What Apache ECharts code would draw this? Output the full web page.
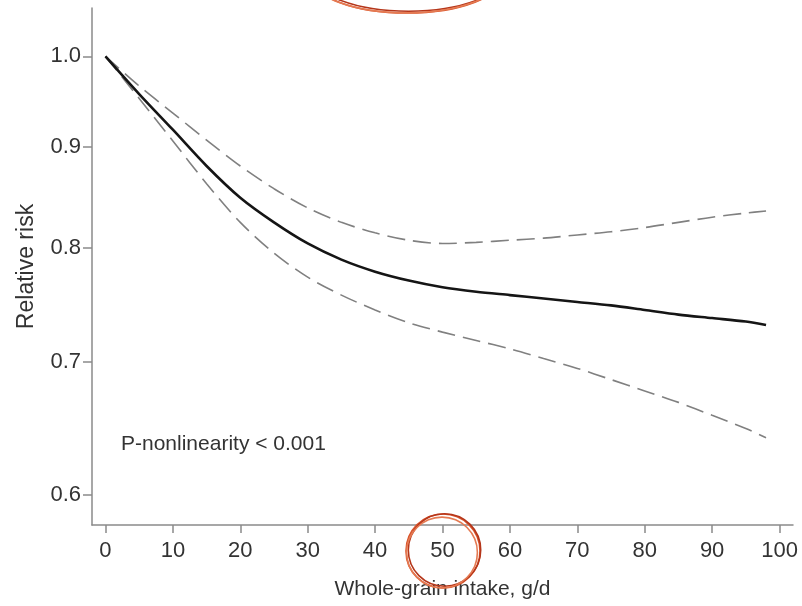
<!DOCTYPE html>
<html>
<head>
<meta charset="utf-8">
<script src="https://cdn.jsdelivr.net/npm/echarts@6/dist/echarts.min.js"></script>
<style>
  html, body { margin: 0; padding: 0; background: #fff; }
  #chart { width: 802px; height: 606px; }
</style>
</head>
<body>
<div id="chart"></div>
<script>
// whole-grain intake (g/d) and relative risk
var intake = [0, 5, 10, 15, 20, 25, 30, 35, 40, 45, 50, 55, 60, 65, 70, 75, 80, 85, 90, 95, 98];
var rr     = [1.000, 0.957, 0.918, 0.880, 0.848, 0.824, 0.804, 0.789, 0.778, 0.770, 0.764, 0.760, 0.757, 0.754, 0.751, 0.748, 0.744, 0.740, 0.737, 0.734, 0.731];
var lower  = [1.000, 0.952, 0.906, 0.862, 0.824, 0.795, 0.773, 0.757, 0.744, 0.733, 0.725, 0.718, 0.711, 0.703, 0.695, 0.686, 0.677, 0.668, 0.658, 0.648, 0.641];
var upper  = [1.000, 0.966, 0.936, 0.907, 0.880, 0.857, 0.838, 0.824, 0.814, 0.807, 0.804, 0.805, 0.807, 0.809, 0.812, 0.815, 0.819, 0.824, 0.829, 0.833, 0.835];

var xTicks = [0, 10, 20, 30, 40, 50, 60, 70, 80, 90, 100];
var yTicks = [0.6, 0.7, 0.8, 0.9, 1.0];

var font = "'Liberation Sans', Arial, sans-serif";
var axisGray = '#8a8a8a';

function pairs(ys) {
  return intake.map(function (x, i) { return [x, ys[i]]; });
}

var chart = echarts.init(document.getElementById('chart'));

// red hand-drawn rings (annotation on the original image)
function rings(cx, cy, rx, ry) {
  var cols = ['#d9542b', '#b5361a', '#e57a52'];
  var offs = [[0, 0], [1.5, -1], [-1, 1.5]];
  return cols.map(function (c, i) {
    return {
      type: 'ellipse',
      silent: true,
      z: 100,
      shape: { cx: cx + offs[i][0], cy: cy + offs[i][1], rx: rx - i * 0.8, ry: ry - i * 0.8 },
      style: { fill: 'none', stroke: c, lineWidth: 1.6 }
    };
  });
}

var option = {
  backgroundColor: '#fff',
  animation: false,
  grid: { left: 92, top: 8, right: 9, bottom: 81 },
  xAxis: {
    type: 'value',
    min: -2,
    max: 102,
    name: 'Whole-grain intake, g/d',
    nameLocation: 'middle',
    nameGap: 54,
    nameTextStyle: { fontFamily: font, fontSize: 21, color: '#333' },
    axisLine: { show: true, onZero: false, lineStyle: { color: axisGray, width: 1.5 } },
    axisTick: { show: true, length: 8, customValues: xTicks, lineStyle: { color: axisGray, width: 1.5 } },
    axisLabel: { customValues: xTicks, margin: 15, fontFamily: font, fontSize: 22, color: '#333' },
    splitLine: { show: false }
  },
  yAxis: {
    type: 'log',
    logBase: 10,
    min: 0.579,
    max: 1.058,
    name: 'Relative risk',
    nameLocation: 'middle',
    nameGap: 54,
    nameTextStyle: { fontFamily: font, fontSize: 23, color: '#333' },
    axisLine: { show: true, onZero: false, lineStyle: { color: axisGray, width: 1.5 } },
    axisTick: { show: true, length: 9, customValues: yTicks, lineStyle: { color: axisGray, width: 1.5 } },
    axisLabel: {
      customValues: yTicks, margin: 11, fontFamily: font, fontSize: 22, color: '#333',
      formatter: function (v) { return Number(v).toFixed(1); }
    },
    splitLine: { show: false }
  },
  series: [
    {
      name: 'Lower',
      type: 'line',
      data: pairs(lower),
      smooth: 0.3,
      showSymbol: false,
      lineStyle: { color: '#808080', width: 1.6, type: [18, 8] },
      z: 2
    },
    {
      name: 'Upper',
      type: 'line',
      data: pairs(upper),
      smooth: 0.3,
      showSymbol: false,
      lineStyle: { color: '#808080', width: 1.6, type: [18, 8] },
      z: 2
    },
    {
      name: 'RR',
      type: 'line',
      data: pairs(rr),
      smooth: 0.3,
      showSymbol: false,
      lineStyle: { color: '#151515', width: 2.6 },
      z: 3
    }
  ],
  graphic: [
    {
      type: 'text',
      left: 121,
      top: 434,
      style: { text: 'P-nonlinearity < 0.001', font: '21px ' + font, fill: '#333' }
    }
  ].concat(rings(443, 551, 37, 37)).concat(rings(407, -24, 96, 37))
};

chart.setOption(option);
</script>
</body>
</html>
